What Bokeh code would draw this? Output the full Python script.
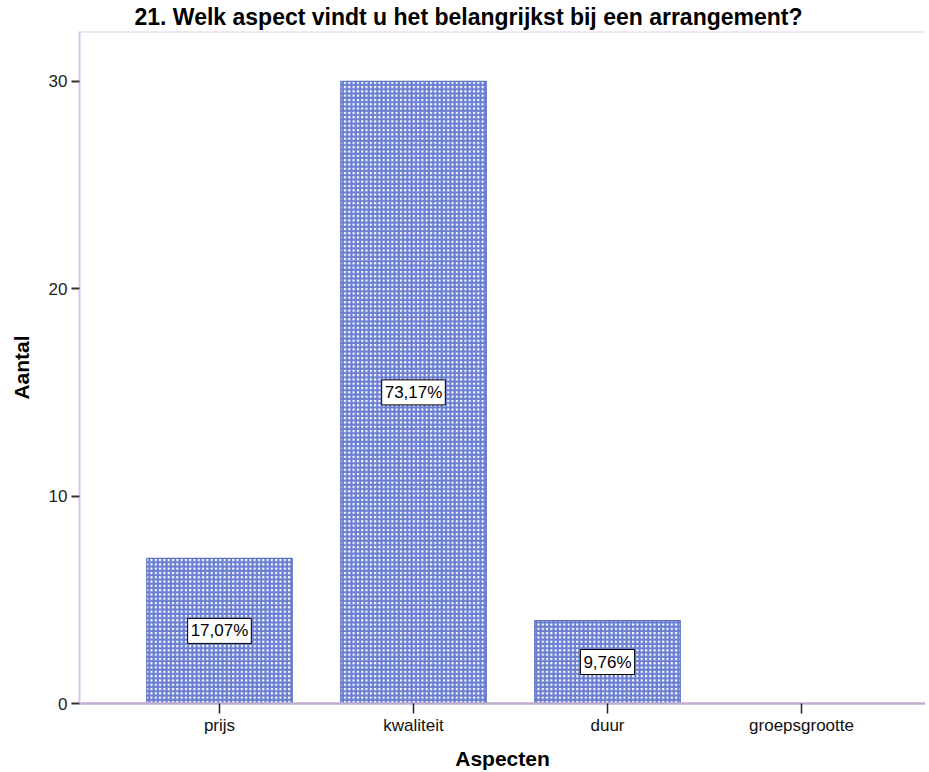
from bokeh.plotting import figure
from bokeh.models import ColumnDataSource, Label, FixedTicker, Range1d, Span
from bokeh.embed import file_html
from bokeh.resources import INLINE

# ---- data ----
title_text = "21. Welk aspect vindt u het belangrijkst bij een arrangement?"
categories = ["prijs", "kwaliteit", "duur", "groepsgrootte"]
counts = [7, 30, 4, 0]
y_ticks = [0, 10, 20, 30]
x_title = "Aspecten"
y_title = "Aantal"

total = sum(counts)
xs = list(range(len(categories)))
pct = [("%.2f%%" % (100.0 * c / total)).replace(".", ",") for c in counts]

bar_src = ColumnDataSource(dict(x=xs, top=counts))

FONT = "Liberation Sans"
Y_END = 32.4

p = figure(width=925, height=772, output_backend="svg", toolbar_location=None,
           x_range=Range1d(-0.7216, 3.639), y_range=Range1d(0, Y_END),
           min_border_left=79, min_border_right=0, min_border_top=0,
           min_border_bottom=0)

p.background_fill_color = "white"
p.border_fill_color = "white"
p.outline_line_color = None
p.xgrid.visible = False
p.ygrid.visible = False

p.title.text = title_text
p.title.align = "left"
p.title.offset = 55
p.title.standoff = 3
p.title.text_font = FONT
p.title.text_font_size = "23px"
p.title.text_font_style = "bold"
p.title.text_color = "black"

p.vbar(x="x", top="top", width=0.75, bottom=0, source=bar_src,
       fill_color="white", hatch_pattern="cross", hatch_color="#6a7ed2",
       hatch_scale=4.3, hatch_weight=2.2, hatch_alpha=1.0,
       line_color="#5f72c4", line_width=1.2)

for xi, c, t in zip(xs, counts, pct):
    if c > 0:
        p.add_layout(Label(x=xi, y=c / 2.0, text=t,
                           text_align="center", text_baseline="middle",
                           text_font=FONT, text_font_size="17px",
                           text_color="black",
                           background_fill_color="white",
                           border_line_color="black", border_line_width=1,
                           padding=3))

# top frame line
p.add_layout(Span(location=Y_END, dimension="width", line_color="#e2cff0",
                  line_width=2))

# x axis
xa = p.xaxis[0]
xa.ticker = FixedTicker(ticks=xs)
xa.major_label_overrides = {i: c for i, c in zip(xs, categories)}
xa.minor_tick_line_color = None
xa.major_tick_in = 0
xa.major_tick_out = 10
xa.major_tick_line_color = "#222222"
xa.major_tick_line_width = 1.5
xa.axis_line_color = "#bfadd0"
xa.axis_line_width = 2.5
xa.major_label_text_font = FONT
xa.major_label_text_font_size = "17px"
xa.major_label_text_color = "#111111"
xa.major_label_standoff = 2
xa.axis_label = x_title
xa.axis_label_text_font = FONT
xa.axis_label_text_font_size = "21px"
xa.axis_label_text_font_style = "bold"
xa.axis_label_text_color = "black"
xa.axis_label_standoff = 9

# y axis
ya = p.yaxis[0]
ya.ticker = FixedTicker(ticks=y_ticks)
ya.minor_tick_line_color = None
ya.major_tick_in = 0
ya.major_tick_out = 8
ya.major_tick_line_color = "#333333"
ya.major_tick_line_width = 2
ya.axis_line_color = "#dcc6ee"
ya.axis_line_width = 2
ya.major_label_text_font = FONT
ya.major_label_text_font_size = "17px"
ya.major_label_text_color = "#222222"
ya.major_label_standoff = 4
ya.axis_label = y_title
ya.axis_label_text_font = FONT
ya.axis_label_text_font_size = "21px"
ya.axis_label_text_font_style = "bold"
ya.axis_label_text_color = "black"
ya.axis_label_standoff = 13

open("out.html", "w").write(file_html(p, INLINE))
